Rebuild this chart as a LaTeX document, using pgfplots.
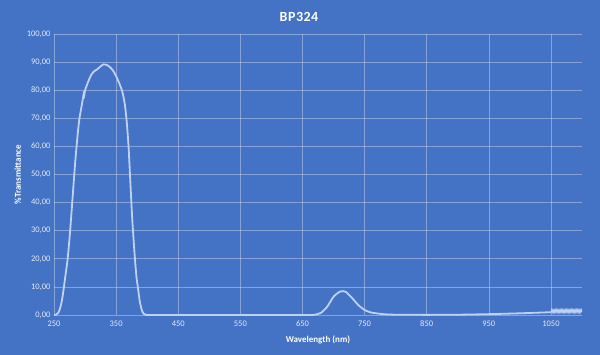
\documentclass[border=0pt]{standalone}
\usepackage{pgfplots}
\pgfplotsset{compat=1.18}
\usepackage{fontspec}
\setmainfont{Carlito}
\definecolor{bg}{HTML}{4472C4}
\definecolor{curve}{HTML}{BFD1F0}
\definecolor{tick}{HTML}{E4EAF5}
\begin{document}
\begin{tikzpicture}[x=1pt,y=1pt]
\fill[bg] (0,0) rectangle (600,355);
\useasboundingbox (0,0) rectangle (600,355);
\node[text=white,font=\fontsize{14}{16}\selectfont\bfseries] at (299,338) {B\kern0.5pt P\kern0.5pt 3\kern0.5pt 2\kern0.5pt 4};
\begin{axis}[
  at={(54pt,40pt)}, anchor=south west,
  scale only axis, width=528pt, height=281pt,
  xmin=250, xmax=1100, ymin=0, ymax=100,
  xtick={250,350,...,1050}, ytick={0,10,...,100},
  grid=major, grid style={white, opacity=0.35, line width=0.6pt},
  axis line style={draw=none}, tick style={draw=none},
  ticklabel style={text=tick, font=\fontsize{8.5}{9}\selectfont},
  /pgf/number format/assume math mode=true,
  yticklabel style={/pgf/number format/.cd, fixed, fixed zerofill, precision=2, use comma},
  xticklabel style={yshift=-2pt, /pgf/number format/.cd, fixed, precision=0, 1000 sep={}},
  xlabel={\textbf{Wavelength (nm)}}, ylabel={\textbf{\%Transmittance}},
  label style={text=white, font=\fontsize{9}{10}\selectfont},
  xlabel style={yshift=-3pt}, ylabel style={yshift=-1pt},
  clip=false,
]
\addplot[curve, line width=1.8pt, smooth, tension=0.4] coordinates {
(250,0) (254,0.2) (257,0.8) (260,2.5) (263,5.5) (266,10) (269,15) (272,20)
(276,30) (280,42) (284,54) (288,64) (291,70) (295,75) (298,79) (299,78.5)
(300,80) (305,83) (310,85.5) (315,86.8) (320,87.5) (325,88.5) (330,89.2)
(335,89) (340,88.2) (345,87) (350,85) (355,82.5) (360,79.5) (364,75)
(367,69) (370,60) (373,47) (376,34) (379,24) (381,18) (383,13) (385,10)
(388,5) (391,2) (394,0.5) (398,0.05) (420,0) (500,0) (600,0) (660,0)
(670,0.1) (680,0.8) (690,3) (700,6.5) (710,8.3) (715,8.5) (720,8.2)
(730,6) (740,3.5) (750,1.8) (760,0.9) (780,0.3) (800,0.1) (850,0.05)
(900,0.1) (950,0.3) (1000,0.6) (1050,1.0)
};
\addplot[curve, line width=0.8pt] coordinates {
(1050,1.0) (1051,1.9) (1052,0.9) (1053,1.9) (1054,0.9) (1055,1.9) (1056,0.9)
(1057,1.9) (1058,0.9) (1059,1.9) (1060,0.9) (1061,1.9) (1062,0.9) (1063,1.9)
(1064,0.9) (1065,1.9) (1066,0.9) (1067,1.9) (1068,0.9) (1069,1.9) (1070,0.9)
(1071,1.9) (1072,0.9) (1073,1.9) (1074,0.9) (1075,1.9) (1076,0.9) (1077,1.9)
(1078,0.9) (1079,1.9) (1080,0.9) (1081,1.9) (1082,0.9) (1083,1.9) (1084,0.9)
(1085,1.9) (1086,0.9) (1087,1.9) (1088,0.9) (1089,1.9) (1090,0.9) (1091,1.9)
(1092,0.9) (1093,1.9) (1094,0.9) (1095,1.9) (1096,0.9) (1097,1.9) (1098,0.9)
(1099,1.9) (1100,1.0)
};
\end{axis}
\end{tikzpicture}
\end{document}
